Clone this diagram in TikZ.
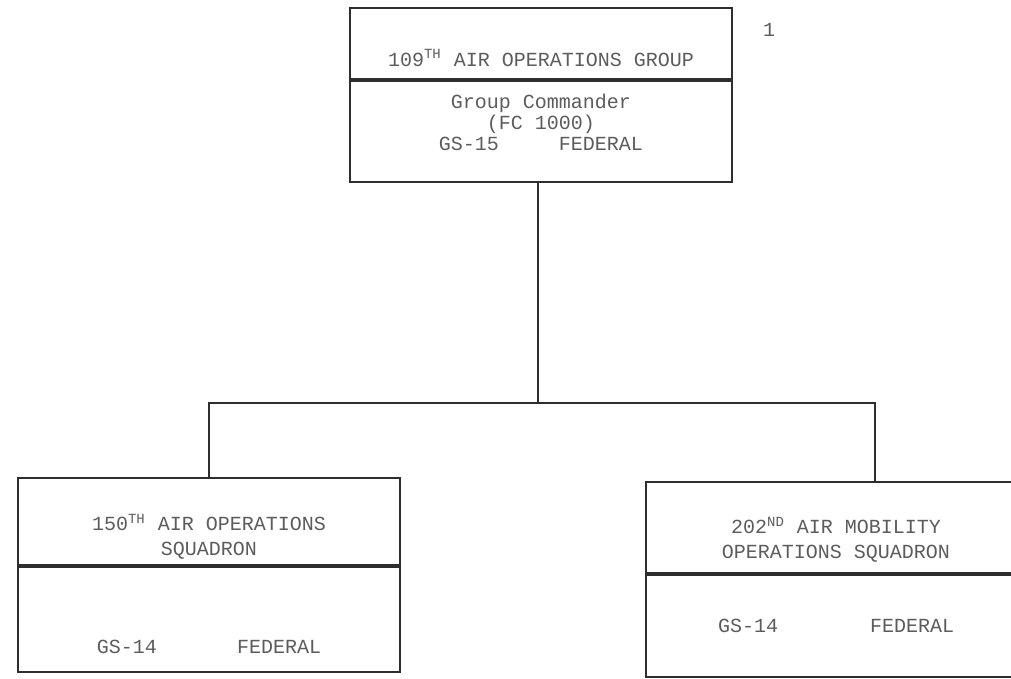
\documentclass[tikz,border=0pt]{standalone}
\usepackage{fontspec}
\setmonofont{Liberation Mono}
\usetikzlibrary{positioning}
\definecolor{inkgray}{HTML}{5C5C5C}
\definecolor{linegray}{HTML}{2E2E2E}
\tikzset{
  box/.style={draw=linegray, line width=0.9pt, minimum width=191pt, inner sep=0pt},
  txt/.style={text=inkgray, font=\ttfamily\fontsize{10}{10.5}\selectfont, align=center, inner sep=0pt},
  hdrtxt/.style={txt, font=\ttfamily\fontsize{10}{12.5}\selectfont},
  wire/.style={draw=linegray, line width=0.9pt},
}

\begin{document}
\begin{tikzpicture}[x=0.5pt, y=-0.5pt]
  \useasboundingbox (0,0) rectangle (1011,679);
  % group
  \node[box, minimum height=35.5pt] (aogHead) at (541,43.5) {};
  \node[box, minimum height=50.5pt, below=0pt of aogHead] (aogBody) {};
  \node[txt] (aogName) at (541,58) {109\textsuperscript{TH} AIR OPERATIONS GROUP};
  \node[txt] (aogCmd) at (541,122) {Group Commander\\(FC 1000)\\GS-15\hspace{30pt}FEDERAL};
  \node[txt] (pageNo) at (769,30) {1};
  % squadrons
  \node[box, minimum height=43.5pt] (sq150Head) at (209,521.5) {};
  \node[box, minimum height=52.5pt, below=0pt of sq150Head] (sq150Body) {};
  \node[hdrtxt] (sq150Name) at (209,537) {150\textsuperscript{TH} AIR OPERATIONS\\SQUADRON};
  \node[txt] (sq150Grade) at (209,647) {GS-14\hspace{40pt}FEDERAL};
  \node[box, minimum height=45.5pt] (sq202Head) at (837,527.5) {};
  \node[box, minimum height=51pt, below=0pt of sq202Head] (sq202Body) {};
  \node[hdrtxt] (sq202Name) at (836,540) {202\textsuperscript{ND} AIR MOBILITY\\OPERATIONS SQUADRON};
  \node[txt] (sq202Grade) at (836,626) {GS-14\hspace{46pt}FEDERAL};
  % lines
  \coordinate (fork) at (538,403);
  \draw[wire] ([xshift=-1.5pt]aogBody.south) -- (fork);
  \draw[wire] (fork) -| (sq150Head.north);
  \draw[wire] (fork) -| ([xshift=19pt]sq202Head.north);
\end{tikzpicture}
\end{document}
